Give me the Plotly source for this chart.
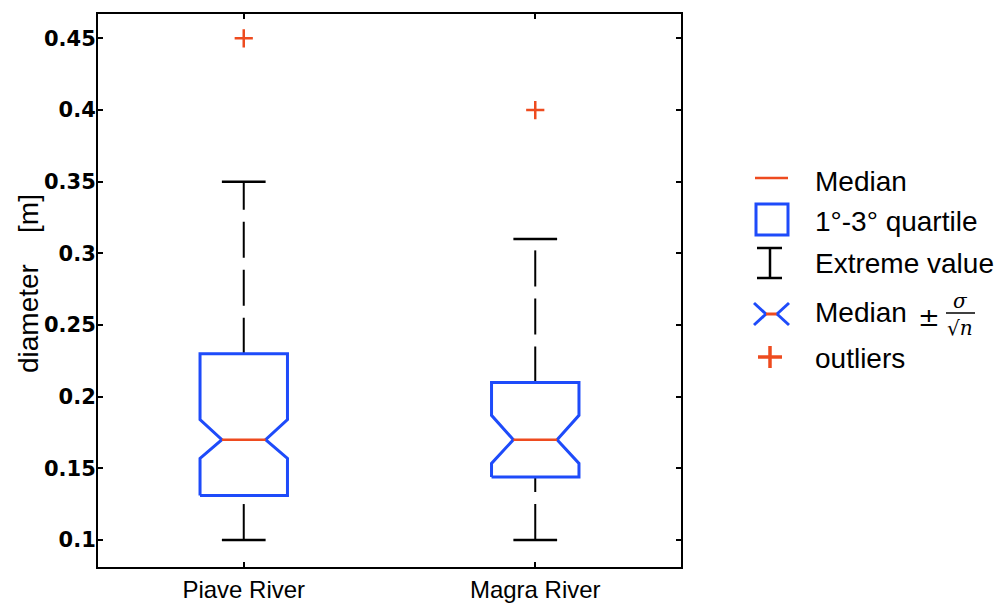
import plotly.graph_objects as go

# ---- data ----
categories = ["Piave River", "Magra River"]
positions = [1, 2]
q1 = [0.131, 0.144]
median = [0.170, 0.170]
q3 = [0.230, 0.210]
notch_lo = [0.157, 0.1535]
notch_hi = [0.184, 0.187]
whisker_lo = [0.10, 0.10]
whisker_hi = [0.35, 0.31]
outliers = [0.45, 0.40]
y_tickvals = [0.1, 0.15, 0.2, 0.25, 0.3, 0.35, 0.4, 0.45]
y_ticktext = ["0.1", "0.15", "0.2", "0.25", "0.3", "0.35", "0.4", "0.45"]

RED = "#EE4B1F"
BLUE = "#1E4BFA"
BLACK = "#000000"
HALF_W = 0.15
NOTCH_W = 0.075
CAP_W = 0.075

fig = go.Figure()

for i, c in enumerate(positions):
    # lower whisker (dashed), drawn upward from end to box
    fig.add_trace(go.Scatter(x=[c, c], y=[whisker_lo[i], q1[i]], mode="lines",
                             line=dict(color=BLACK, width=2, dash="36px,12px"),
                             showlegend=False, hoverinfo="skip"))
    # upper whisker (dashed), drawn upward from box to end
    fig.add_trace(go.Scatter(x=[c, c], y=[q3[i], whisker_hi[i]], mode="lines",
                             line=dict(color=BLACK, width=2, dash="36px,12px"),
                             showlegend=False, hoverinfo="skip"))
    # caps
    for w in (whisker_lo[i], whisker_hi[i]):
        fig.add_trace(go.Scatter(x=[c - CAP_W, c + CAP_W], y=[w, w], mode="lines",
                                 line=dict(color=BLACK, width=2.5),
                                 showlegend=False, hoverinfo="skip"))
    # notched box outline
    bx = [c - HALF_W, c - HALF_W, c - NOTCH_W, c - HALF_W, c - HALF_W,
          c + HALF_W, c + HALF_W, c + NOTCH_W, c + HALF_W, c + HALF_W, c - HALF_W]
    by = [q1[i], notch_lo[i], median[i], notch_hi[i], q3[i],
          q3[i], notch_hi[i], median[i], notch_lo[i], q1[i], q1[i]]
    fig.add_trace(go.Scatter(x=bx, y=by, mode="lines",
                             line=dict(color=BLUE, width=3),
                             showlegend=False, hoverinfo="skip"))
    # median
    fig.add_trace(go.Scatter(x=[c - NOTCH_W, c + NOTCH_W], y=[median[i], median[i]],
                             mode="lines", line=dict(color=RED, width=2.5),
                             showlegend=False, hoverinfo="skip"))

# outliers
fig.add_trace(go.Scatter(x=positions, y=outliers, mode="markers",
                         marker=dict(symbol="cross-thin", size=13,
                                     line=dict(color=RED, width=2.5)),
                         showlegend=False, hoverinfo="skip"))

# ---- layout ----
L, R, T, B = 98, 681, 14, 567
W, H = 1004, 605


def px(x):
    return (x - L) / (R - L)


def py(y):
    return (B - y) / (B - T)


fig.update_layout(
    width=W, height=H,
    margin=dict(l=L, r=W - R, t=T, b=H - B),
    paper_bgcolor="white", plot_bgcolor="white",
    showlegend=False,
    xaxis=dict(range=[0.5, 2.5], tickvals=positions, ticktext=categories,
               automargin=False,
               showgrid=False, zeroline=False, showline=True, linecolor=BLACK,
               linewidth=2, mirror="ticks", ticks="inside", ticklen=5,
               tickwidth=2, tickcolor=BLACK,
               tickfont=dict(family="Liberation Sans", size=24, color=BLACK)),
    yaxis=dict(range=[0.0812, 0.467], tickvals=y_tickvals, ticktext=y_ticktext,
               automargin=False, ticklabelstandoff=-4,
               showgrid=False, zeroline=False, showline=True, linecolor=BLACK,
               linewidth=2, mirror="ticks", ticks="inside", ticklen=5,
               tickwidth=2, tickcolor=BLACK,
               tickfont=dict(family="DejaVu Sans", size=21, color=BLACK,
                             weight="bold")),
)

# ---- custom legend ----
shapes = []


def seg(x0, y0, x1, y1, color, width):
    shapes.append(dict(type="line", xref="paper", yref="paper",
                       x0=px(x0), y0=py(y0), x1=px(x1), y1=py(y1),
                       line=dict(color=color, width=width)))


seg(755, 178, 788, 178, RED, 2.5)
shapes.append(dict(type="rect", xref="paper", yref="paper",
                   x0=px(756), y0=py(235), x1=px(788), y1=py(204),
                   line=dict(color=BLUE, width=3)))
seg(770, 248, 770, 278, BLACK, 2.5)
seg(757, 248, 782, 248, BLACK, 2.5)
seg(757, 278, 782, 278, BLACK, 2.5)
seg(754, 303, 766, 314, BLUE, 3)
seg(754, 325, 766, 314, BLUE, 3)
seg(766, 314, 777, 314, RED, 3)
seg(777, 314, 789, 303, BLUE, 3)
seg(777, 314, 789, 325, BLUE, 3)
seg(758, 357, 782, 357, RED, 3.5)
seg(770, 346, 770, 368, RED, 3.5)
seg(946, 313, 975, 313, BLACK, 1.5)

annotations = []


def txt(x, y, s, size=28, family="Liberation Sans", anchor="left", angle=0):
    annotations.append(dict(xref="paper", yref="paper", x=px(x), y=py(y), text=s,
                            xanchor=anchor, yanchor="middle", showarrow=False,
                            textangle=angle,
                            font=dict(family=family, size=size, color=BLACK)))


# y-axis title
txt(28, 284, "diameter\u00a0\u00a0\u00a0\u00a0[m]", size=28, anchor="center", angle=-90)

legend_labels = ["Median", "1°-3° quartile", "Extreme value", "Median", "outliers"]
legend_y = [182, 221, 263, 313, 358]
for lab, yy in zip(legend_labels, legend_y):
    txt(813, yy, lab)
txt(929, 317, "±", size=26, family="DejaVu Serif", anchor="center")
txt(960, 301, "<i>σ</i>", size=20, family="DejaVu Serif", anchor="center")
txt(960, 328, "√<i>n</i>", size=20, family="DejaVu Serif", anchor="center")

fig.update_layout(shapes=shapes, annotations=annotations)

fig.write_html(
    "out.html",
    config={"displayModeBar": False},
    post_script="document.body.style.margin='0';document.body.style.padding='0';"
                "document.body.style.overflow='hidden';",
)
